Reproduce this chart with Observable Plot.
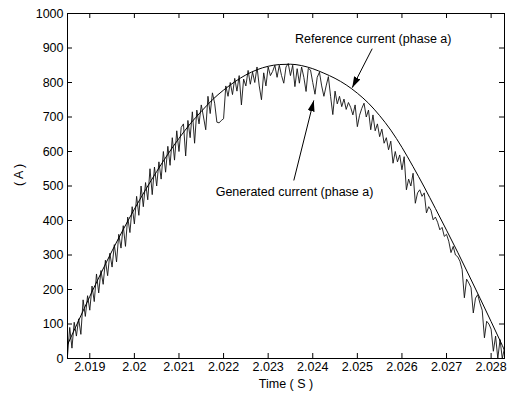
<!DOCTYPE html>
<html><head><meta charset="utf-8">
<script src="https://cdn.jsdelivr.net/npm/d3@7"></script>
<script src="https://cdn.jsdelivr.net/npm/@observablehq/plot@0.6"></script>
<style>body{margin:0;background:#fff}</style>
</head><body><div id="chart"></div>
<script>
// Axis ticks
const xTicks = [2.019, 2.02, 2.021, 2.022, 2.023, 2.024, 2.025, 2.026, 2.027, 2.028];
const xTickLabels = ["2.019", "2.02", "2.021", "2.022", "2.023", "2.024", "2.025", "2.026", "2.027", "2.028"];
const yTicks = [0, 100, 200, 300, 400, 500, 600, 700, 800, 900, 1000];

// Reference current (phase a)
const refTime = [2.0185, 2.01875, 2.019, 2.01925, 2.0195, 2.01975, 2.02, 2.02025, 2.0205, 2.02075,
  2.021, 2.02125, 2.0215, 2.02175, 2.022, 2.02225, 2.0225, 2.02275, 2.023, 2.02325,
  2.0235, 2.02375, 2.024, 2.02425, 2.0245, 2.02475, 2.025, 2.02525, 2.0255, 2.02575,
  2.026, 2.02625, 2.0265, 2.02675, 2.027, 2.02725, 2.0275, 2.02775, 2.028, 2.02825, 2.0283];
const refCurrent = [40, 110, 180, 247, 312, 374, 433, 489, 542, 592,
  638, 680, 716, 750, 778, 802, 822, 837, 847, 852,
  853, 849, 840, 827, 812, 793, 769, 740, 704, 662,
  612, 556, 497, 435, 372, 308, 242, 175, 107, 38, 24];

// Generated current (phase a), sampled every 0.05 ms from 2.0185 s
const genStart = 2.0185;
const genStep = 0.00005;
const genCurrent = [
  8, 90, 30, 105, 65, 115, 70, 170, 122, 182,
  140, 210, 165, 245, 190, 255, 215, 285, 240, 305,
  265, 330, 280, 360, 320, 385, 325, 410, 365, 440,
  390, 470, 415, 500, 440, 510, 460, 550, 475, 555,
  500, 570, 520, 600, 540, 615, 560, 640, 575, 660,
  600, 670, 680, 587, 690, 640, 715, 624, 720, 680,
  735, 700, 663, 760, 710, 770, 740, 685, 683, 690,
  695, 790, 760, 800, 765, 812, 775, 820, 735, 810,
  790, 835, 795, 830, 800, 845, 790, 750, 828, 790,
  845, 820, 832, 850, 815, 850, 820, 798, 845, 855,
  820, 850, 788, 840, 798, 845, 815, 774, 841, 836,
  800, 766, 815, 830, 790, 760, 790, 817, 760, 707,
  775, 738, 760, 730, 752, 722, 742, 728, 706, 735,
  672, 705, 725, 740, 700, 720, 663, 706, 660, 680,
  643, 665, 624, 640, 605, 630, 566, 600, 570, 590,
  547, 585, 489, 520, 500, 537, 450, 480, 489, 470,
  480, 422, 440, 430, 402, 410, 395, 373, 380, 354,
  360, 340, 307, 325, 300, 295, 282, 258, 176, 230,
  219, 205, 132, 175, 185, 160, 140, 60, 108, 100,
  85, 21, 65, 0, 55, 0, 30];

// Annotations (data coordinates)
const annotText = ["Reference current (phase a)", "Generated current (phase a)"];
const annotTextTime = [2.025357, 2.023591];
const annotTextCurrent = [926, 482];
const arrowFromTime = [2.025333, 2.023575];
const arrowFromCurrent = [898, 516];
const arrowToTime = [2.024885, 2.024023];
const arrowToCurrent = [785, 748];

const xDomain = [2.0185, 2.0283];
const yDomain = [0, 1000];

const ref = refTime.map((t, i) => ({t, v: refCurrent[i]}));
const gen = genCurrent.map((v, i) => ({t: genStart + i * genStep, v}));
const labels = annotText.map((s, i) => ({s, t: annotTextTime[i], v: annotTextCurrent[i]}));
const arrows = arrowFromTime.map((t, i) => ({t1: t, v1: arrowFromCurrent[i], t2: arrowToTime[i], v2: arrowToCurrent[i]}));

const W = 510, H = 396, mL = 67, mR = 6, mT = 13, mB = 38;
const plotW = W - mL - mR, plotH = H - mT - mB, tl = 5;
const labelOf = new Map(xTicks.map((t, i) => [t, xTickLabels[i]]));

const svg = Plot.plot({
  width: W, height: H,
  marginLeft: mL, marginRight: mR, marginTop: mT, marginBottom: mB,
  style: {fontFamily: "'Liberation Sans', Arial, sans-serif", fontSize: "12.5px", background: "#fff", color: "#000"},
  x: {domain: xDomain},
  y: {domain: yDomain},
  marks: [
    Plot.line(gen, {x: "t", y: "v", stroke: "#111", strokeWidth: 0.9, clip: true}),
    Plot.line(ref, {x: "t", y: "v", stroke: "#000", strokeWidth: 1, curve: "monotone-x", clip: true}),
    Plot.tickX(xTicks, {x: d => d, insetTop: plotH - tl, stroke: "#000"}),
    Plot.tickX(xTicks, {x: d => d, insetBottom: plotH - tl, stroke: "#000"}),
    Plot.tickY(yTicks, {y: d => d, insetRight: plotW - tl, stroke: "#000"}),
    Plot.tickY(yTicks, {y: d => d, insetLeft: plotW - tl, stroke: "#000"}),
    Plot.axisX({anchor: "bottom", ticks: xTicks, tickFormat: d => labelOf.get(d), tickSize: 0, tickPadding: 4, label: null, fontSize: 12.5}),
    Plot.axisY({anchor: "left", ticks: yTicks, tickFormat: d => String(d), tickSize: 0, tickPadding: 4, label: null, fontSize: 12.5}),
    Plot.frame({stroke: "#000"}),
    Plot.text(["( A )"], {frameAnchor: "left", dx: -49, rotate: -90, fontSize: 12.5}),
    Plot.text(["Time ( S )"], {frameAnchor: "bottom", dy: 29, fontSize: 12.5}),
    Plot.text(labels, {x: "t", y: "v", text: "s", fontSize: 12.5}),
    Plot.link(arrows, {x1: "t1", y1: "v1", x2: "t2", y2: "v2", stroke: "#000", strokeWidth: 1})
  ]
});

const sel = d3.select(svg);
const defs = sel.append("defs");
defs.append("marker")
  .attr("id", "ahead").attr("viewBox", "0 0 11 7").attr("refX", 11).attr("refY", 3.5)
  .attr("markerWidth", 11).attr("markerHeight", 7).attr("markerUnits", "userSpaceOnUse").attr("orient", "auto")
  .append("path").attr("d", "M0,0L11,3.5L0,7Z").attr("fill", "#000");
sel.selectAll('g[aria-label="link"] path').attr("marker-end", "url(#ahead)");

document.getElementById("chart").appendChild(svg);
</script></body></html>
